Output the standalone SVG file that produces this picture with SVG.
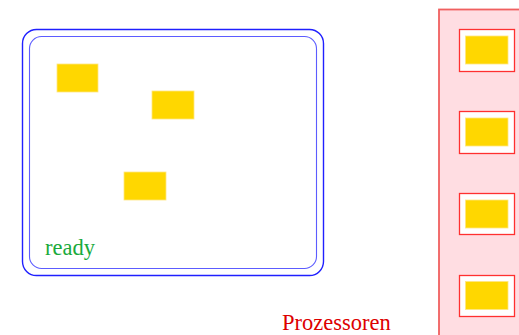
<svg xmlns="http://www.w3.org/2000/svg" width="519" height="335" viewBox="0 0 519 335">
<style>
.job{fill:#ffd700;stroke:#ffe680;stroke-width:0.8}
.slot{fill:#ffffff;stroke:#ff3030;stroke-width:1.3}
.lbl{font-family:"Liberation Serif",serif;font-size:22.5px}
</style>
<rect width="519" height="335" fill="#ffffff"/>
<g id="ready">
<rect x="22.5" y="29.5" width="301" height="246" rx="14" fill="none" stroke="#2020ff" stroke-width="1.4"/>
<rect x="29.5" y="36.5" width="287" height="232" rx="12" fill="none" stroke="#4040ff" stroke-width="1.1" stroke-opacity="0.85"/>
<text class="lbl" x="45" y="255" fill="#1aaa3c" font-size="23px">ready</text>
</g>
<g id="job1"><rect class="job" x="57" y="64" width="41" height="28"/></g>
<g id="job2"><rect class="job" x="152" y="91" width="42" height="28"/></g>
<g id="job3"><rect class="job" x="124" y="172" width="42" height="28"/></g>
<g id="prozessoren">
<rect x="439" y="9.5" width="90" height="340" fill="#ffdde2" stroke="#f06060" stroke-width="1.8"/>
<text class="lbl" x="282" y="329.5" fill="#dd0000">Prozessoren</text>
</g>
<g id="cpu1"><rect class="slot" x="459.5" y="29.5" width="55" height="42"/><rect class="job" x="465.5" y="36" width="42.5" height="28"/></g>
<g id="cpu2"><rect class="slot" x="459.5" y="111.5" width="55" height="42"/><rect class="job" x="465.5" y="118" width="42.5" height="28"/></g>
<g id="cpu3"><rect class="slot" x="459.5" y="193.5" width="55" height="41"/><rect class="job" x="465.5" y="200" width="42.5" height="28"/></g>
<g id="cpu4"><rect class="slot" x="459.5" y="275.5" width="55" height="41"/><rect class="job" x="465.5" y="281.5" width="42.5" height="28"/></g>
<g id="connectors"></g>
</svg>
